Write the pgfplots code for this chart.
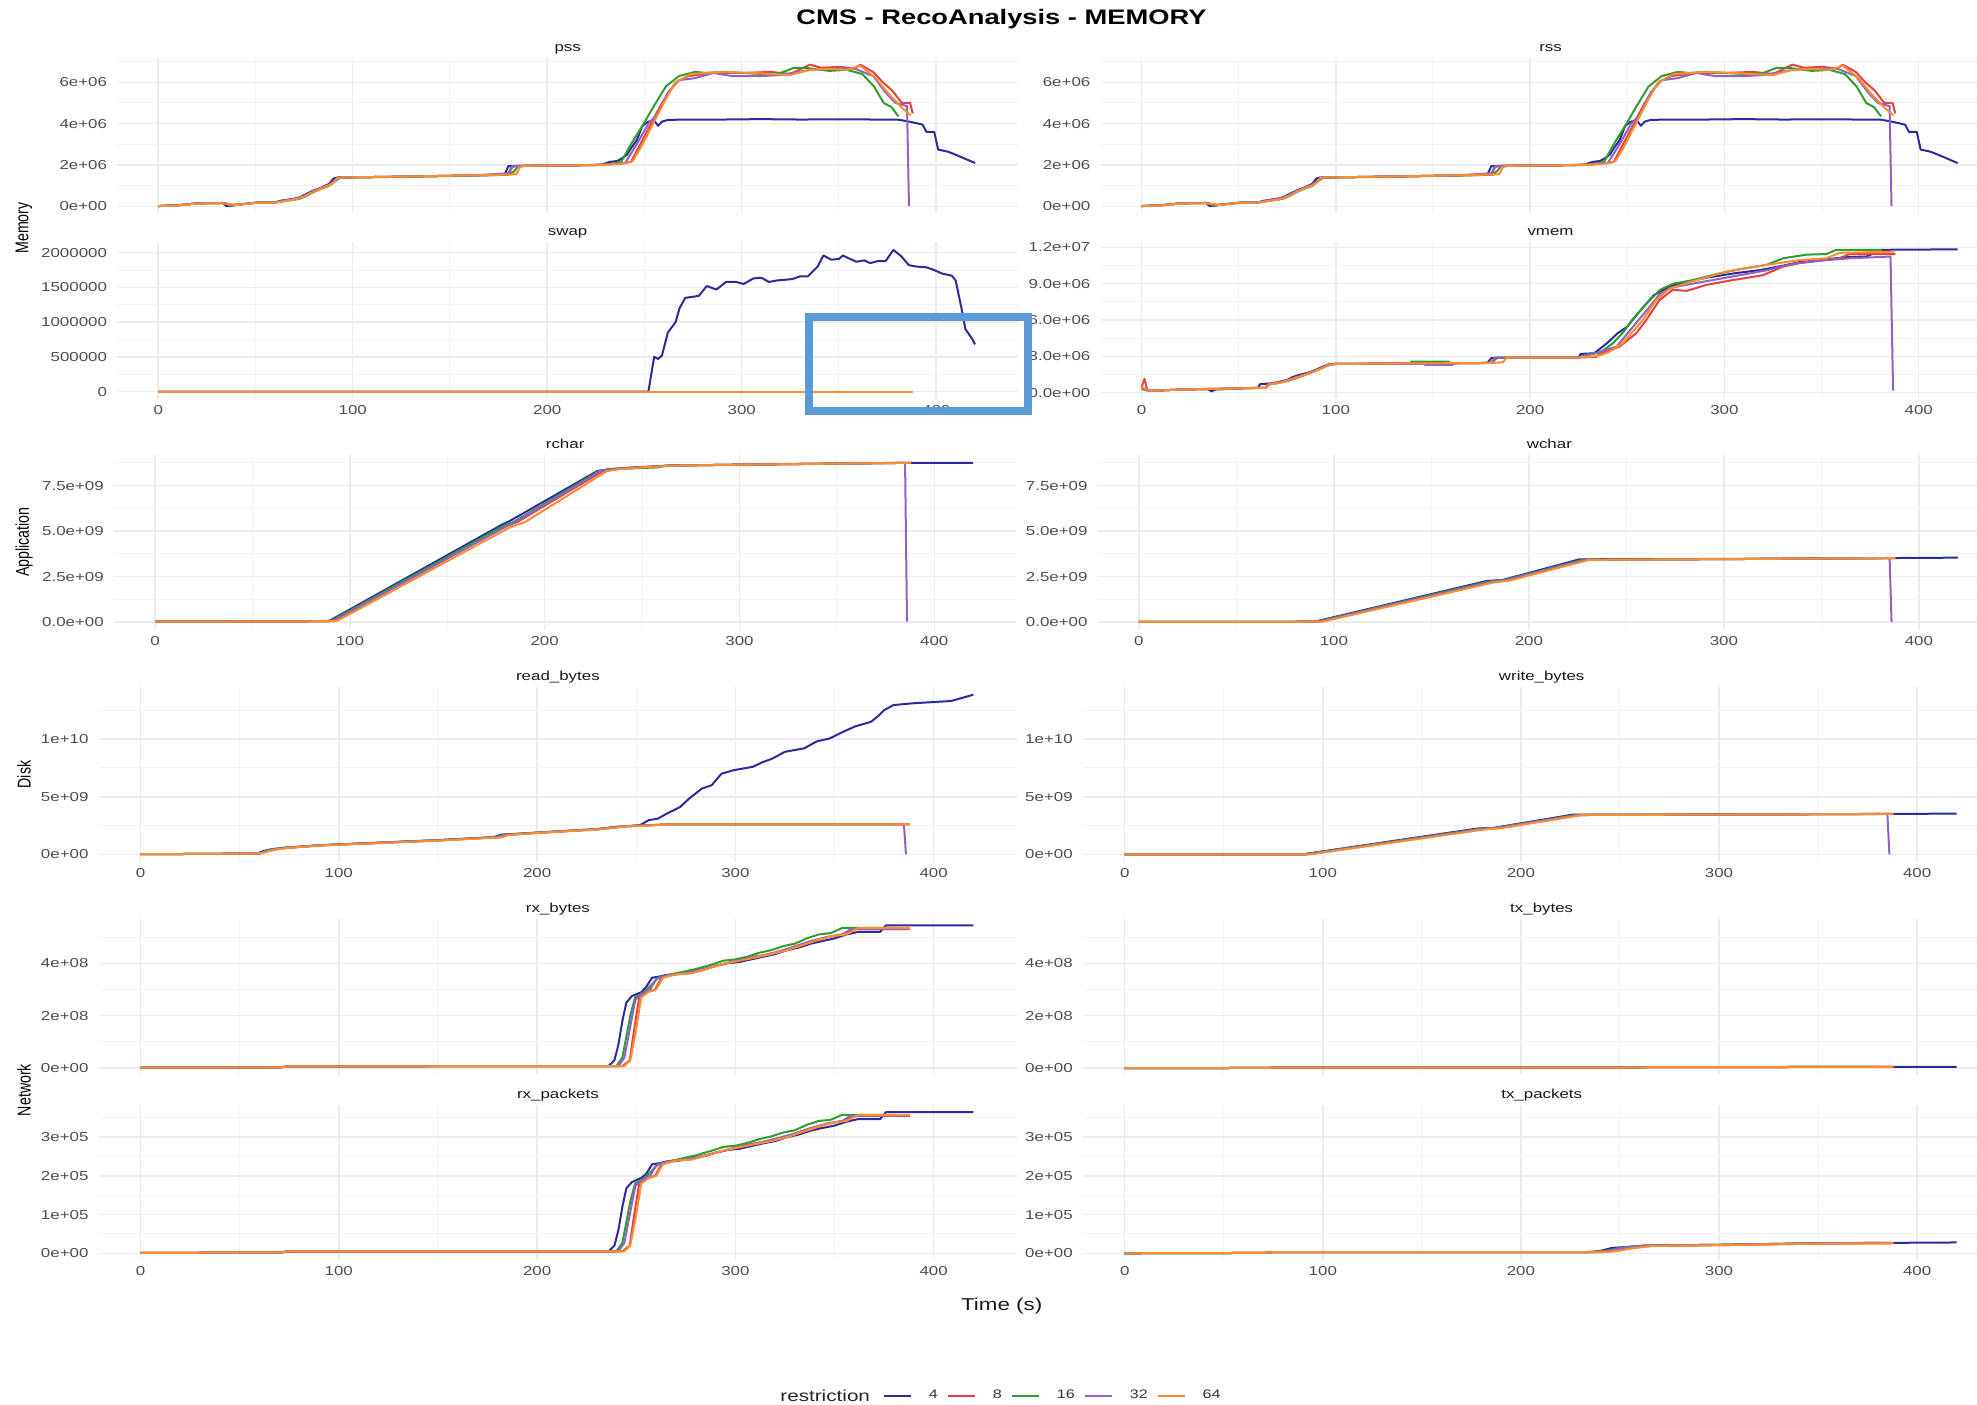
\documentclass[border=0pt]{standalone}
\usepackage{fontspec}
\setmainfont{Liberation Sans}[FakeStretch=1.3]
\newfontfamily\plainsans{Liberation Sans}
\usepackage{pgfplots}
\pgfplotsset{compat=1.18}
\usepackage{pgfplotstable}

\definecolor{cA}{HTML}{2B2B9E}
\definecolor{cB}{HTML}{E8423F}
\definecolor{cC}{HTML}{2E9E2E}
\definecolor{cD}{HTML}{8E63C4}
\definecolor{cE}{HTML}{FF8C2E}
\definecolor{gridc}{HTML}{EBEBEB}
\definecolor{gridm}{HTML}{F2F2F2}
\definecolor{tickc}{HTML}{4D4D4D}
\definecolor{stripc}{HTML}{1A1A1A}
\definecolor{boxc}{HTML}{5B9BD5}
\newcommand\tickfont{\fontsize{6.5}{7}\selectfont}

% ---------------- pss / rss (x 1e6) ----------------
\pgfplotstableread[row sep=\\]{x y\\ 0 0.02\\ 10 0.06\\ 20 0.15\\ 33 0.17\\ 35 0.03\\ 37 0.02\\ 40 0.08\\ 45 0.13\\ 50 0.18\\ 60 0.2\\ 63 0.28\\ 66 0.32\\ 70 0.38\\ 73 0.45\\ 76 0.6\\ 80 0.78\\ 84 0.92\\ 88 1.1\\ 90 1.35\\ 92 1.4\\ 100 1.41\\ 130 1.45\\ 160 1.5\\ 178 1.53\\ 180 1.95\\ 188 1.97\\ 200 1.98\\ 215 1.99\\ 228 2.02\\ 232 2.15\\ 236 2.2\\ 238 2.3\\ 241 2.5\\ 243 2.8\\ 246 3.2\\ 249 3.9\\ 252 4.1\\ 255 4.15\\ 257 3.9\\ 259 4.1\\ 262 4.18\\ 270 4.2\\ 290 4.2\\ 310 4.22\\ 330 4.2\\ 350 4.21\\ 370 4.2\\ 380 4.2\\ 385 4.12\\ 390 4.02\\ 393 3.95\\ 395 3.6\\ 399 3.6\\ 401 2.75\\ 406 2.65\\ 410 2.5\\ 415 2.3\\ 420 2.1\\}\pssA
\pgfplotstableread[row sep=\\]{x y\\ 0 0.02\\ 10 0.06\\ 20 0.15\\ 33 0.17\\ 37 0.1\\ 40 0.08\\ 45 0.13\\ 50 0.18\\ 60 0.2\\ 63 0.24\\ 66 0.3\\ 70 0.36\\ 73 0.42\\ 76 0.55\\ 80 0.74\\ 84 0.9\\ 88 1.05\\ 90 1.2\\ 92 1.38\\ 94 1.4\\ 100 1.41\\ 130 1.45\\ 160 1.5\\ 180 1.54\\ 182 1.9\\ 184 1.96\\ 200 1.98\\ 215 1.99\\ 228 2.01\\ 236 2.06\\ 243 2.15\\ 247.8 3.0\\ 254.5 4.2\\ 259 5.0\\ 266 6.0\\ 272.5 6.3\\ 285.5 6.45\\ 300 6.45\\ 315 6.5\\ 325 6.4\\ 335 6.85\\ 341 6.7\\ 351 6.75\\ 357.6 6.65\\ 361 6.85\\ 367.6 6.5\\ 372.5 6.0\\ 377.4 5.6\\ 382.3 5.0\\ 386.6 5.0\\ 387.9 4.5\\}\pssB
\pgfplotstableread[row sep=\\]{x y\\ 0 0.02\\ 10 0.06\\ 20 0.15\\ 33 0.17\\ 35 0.15\\ 37 0.03\\ 40 0.08\\ 45 0.13\\ 50 0.18\\ 60 0.2\\ 63 0.24\\ 66 0.28\\ 70 0.33\\ 73 0.38\\ 76 0.5\\ 80 0.7\\ 84 0.86\\ 88 1.0\\ 90 1.15\\ 92 1.3\\ 94 1.4\\ 100 1.4\\ 130 1.44\\ 160 1.49\\ 180 1.53\\ 183 1.7\\ 185 1.95\\ 200 1.98\\ 215 1.99\\ 228 2.01\\ 232 2.05\\ 238 2.15\\ 243 3.0\\ 249.6 4.0\\ 254.5 4.8\\ 261 5.8\\ 267.7 6.3\\ 276 6.5\\ 282 6.45\\ 290 6.5\\ 300 6.45\\ 310 6.4\\ 320 6.45\\ 327 6.7\\ 333 6.7\\ 345 6.55\\ 354 6.6\\ 362 6.4\\ 368 5.8\\ 373 5.0\\ 377 4.8\\ 380.6 4.35\\}\pssC
\pgfplotstableread[row sep=\\]{x y\\ 0 0.02\\ 10 0.06\\ 20 0.15\\ 33 0.17\\ 37 0.08\\ 40 0.08\\ 45 0.13\\ 50 0.18\\ 60 0.2\\ 63 0.25\\ 66 0.3\\ 70 0.36\\ 73 0.42\\ 76 0.55\\ 80 0.75\\ 84 0.9\\ 88 1.05\\ 90 1.2\\ 92 1.38\\ 94 1.4\\ 100 1.41\\ 130 1.45\\ 160 1.5\\ 180 1.6\\ 182 1.95\\ 200 1.98\\ 215 1.99\\ 228 2.01\\ 236 2.08\\ 240 2.1\\ 246 3.0\\ 252 4.0\\ 257 4.5\\ 262 5.5\\ 267.7 6.1\\ 276 6.2\\ 285.5 6.45\\ 295 6.3\\ 310 6.3\\ 320 6.35\\ 335 6.6\\ 357 6.7\\ 367.6 6.3\\ 374 5.5\\ 379 5.0\\ 385 4.85\\ 386 0.02\\}\pssD
\pgfplotstableread[row sep=\\]{x y\\ 0 0.02\\ 10 0.05\\ 20 0.14\\ 33 0.16\\ 37 0.1\\ 40 0.07\\ 45 0.12\\ 50 0.17\\ 60 0.19\\ 63 0.22\\ 66 0.28\\ 70 0.33\\ 73 0.4\\ 76 0.52\\ 80 0.72\\ 84 0.88\\ 88 1.02\\ 90 1.15\\ 92 1.35\\ 94 1.4\\ 100 1.41\\ 130 1.45\\ 160 1.5\\ 184 1.55\\ 186 1.9\\ 188 1.96\\ 200 1.98\\ 215 1.99\\ 228 2.0\\ 236 2.05\\ 241 2.1\\ 244 2.2\\ 249 3.0\\ 255.5 4.2\\ 261 5.2\\ 266 6.0\\ 274 6.4\\ 290 6.5\\ 305 6.45\\ 325 6.35\\ 335 6.6\\ 345 6.65\\ 354 6.6\\ 361 6.8\\ 369 6.2\\ 375 5.5\\ 382 4.8\\ 387 4.4\\}\pssE

% ---------------- swap (x 1e6) ----------------
\pgfplotstableread[row sep=\\]{x y\\ 0 0\\ 252 0\\ 255 0.5\\ 257 0.47\\ 259 0.52\\ 262 0.85\\ 266 1.0\\ 268 1.2\\ 271 1.35\\ 276 1.37\\ 278 1.38\\ 282 1.52\\ 287 1.47\\ 292 1.58\\ 297 1.58\\ 301 1.55\\ 306 1.63\\ 310 1.64\\ 314 1.58\\ 318 1.6\\ 322 1.61\\ 326 1.62\\ 330 1.66\\ 334 1.66\\ 339 1.8\\ 342 1.96\\ 346 1.9\\ 350 1.91\\ 352 1.96\\ 355 1.92\\ 359 1.87\\ 363 1.89\\ 366 1.85\\ 370 1.88\\ 374 1.88\\ 378 2.04\\ 382 1.95\\ 386 1.82\\ 390 1.8\\ 395 1.79\\ 399 1.75\\ 403 1.7\\ 408 1.67\\ 410 1.6\\ 413 1.2\\ 415 0.9\\ 418 0.78\\ 420 0.68\\}\swapA
\pgfplotstableread[row sep=\\]{x y\\ 0 0\\ 388 0\\}\swapB
\pgfplotstableread[row sep=\\]{x y\\ 0 0\\ 381 0\\}\swapC
\pgfplotstableread[row sep=\\]{x y\\ 0 0\\ 386 0\\}\swapD
\pgfplotstableread[row sep=\\]{x y\\ 0 0\\ 388 0\\}\swapE

% ---------------- vmem (x 1e6) ----------------
\pgfplotstableread[row sep=\\]{x y\\ 0 0.5\\ 2 0.2\\ 5 0.15\\ 20 0.25\\ 34 0.3\\ 36 0.1\\ 38 0.25\\ 50 0.35\\ 60 0.4\\ 61 0.7\\ 66 0.75\\ 70 0.85\\ 75 1.05\\ 78 1.3\\ 82 1.5\\ 86 1.65\\ 90 1.9\\ 94 2.2\\ 98 2.37\\ 140 2.4\\ 178 2.45\\ 180 2.85\\ 200 2.9\\ 225 2.9\\ 226 3.2\\ 233 3.25\\ 239.5 4.07\\ 245 4.9\\ 250 5.45\\ 256.8 6.8\\ 263.7 8.06\\ 272.3 8.8\\ 280.8 9.17\\ 291 9.5\\ 304.8 9.85\\ 318.5 10.13\\ 330.5 10.5\\ 339 10.8\\ 349.3 10.95\\ 363 11.2\\ 373.3 11.25\\ 378 11.6\\ 380.2 11.8\\ 420 11.84\\}\vmemA
\pgfplotstableread[row sep=\\]{x y\\ 0 0.4\\ 1.5 1.13\\ 3 0.2\\ 5 0.15\\ 20 0.25\\ 35 0.3\\ 50 0.35\\ 64 0.4\\ 65 0.7\\ 70 0.8\\ 75 1.0\\ 80 1.3\\ 84 1.5\\ 88 1.7\\ 92 2.0\\ 96 2.3\\ 100 2.37\\ 140 2.42\\ 180 2.45\\ 183 2.88\\ 225 2.9\\ 234 2.95\\ 236 3.2\\ 246 3.8\\ 254.6 4.9\\ 259.8 6.0\\ 266.6 7.65\\ 273.5 8.5\\ 280.4 8.4\\ 290.7 8.9\\ 304.4 9.3\\ 319.8 9.7\\ 330 10.4\\ 338.6 10.7\\ 348.9 10.9\\ 359.2 11.1\\ 364.3 11.45\\ 388 11.45\\}\vmemB
\pgfplotstableread[row sep=\\]{x y\\ 0 0.3\\ 3 0.2\\ 5 0.15\\ 20 0.25\\ 35 0.3\\ 50 0.35\\ 64 0.4\\ 66 0.7\\ 70 0.78\\ 75 0.95\\ 80 1.2\\ 84 1.45\\ 88 1.7\\ 92 1.95\\ 96 2.25\\ 100 2.37\\ 138 2.38\\ 139 2.56\\ 158 2.56\\ 159 2.42\\ 180 2.45\\ 182 2.9\\ 225 2.9\\ 230.8 3.2\\ 236 3.3\\ 242.8 4.1\\ 248 5.0\\ 253 6.1\\ 261.6 7.65\\ 267 8.5\\ 273.6 9.0\\ 283.9 9.3\\ 295.9 9.8\\ 307.9 10.2\\ 321.6 10.55\\ 330.2 11.1\\ 342.2 11.4\\ 352.5 11.45\\ 357.6 11.8\\ 381 11.8\\}\vmemC
\pgfplotstableread[row sep=\\]{x y\\ 0 0.3\\ 3 0.2\\ 5 0.15\\ 20 0.25\\ 35 0.3\\ 50 0.35\\ 64 0.4\\ 66 0.7\\ 70 0.8\\ 75 1.0\\ 80 1.25\\ 84 1.5\\ 88 1.7\\ 92 2.0\\ 96 2.3\\ 100 2.37\\ 145 2.38\\ 146 2.3\\ 160 2.3\\ 161 2.42\\ 180 2.45\\ 182 2.9\\ 225 2.9\\ 232.5 3.2\\ 244.5 3.8\\ 253 5.45\\ 260 6.8\\ 267 8.2\\ 273.6 8.7\\ 287 9.1\\ 304.4 9.6\\ 321.5 10.1\\ 335.3 10.65\\ 349 10.9\\ 364.5 11.1\\ 383.4 11.23\\ 385.5 11.23\\ 386.8 0.16\\}\vmemD
\pgfplotstableread[row sep=\\]{x y\\ 0 0.5\\ 3 0.2\\ 5 0.15\\ 20 0.25\\ 35 0.3\\ 50 0.35\\ 64 0.4\\ 66 0.7\\ 70 0.78\\ 75 0.98\\ 80 1.25\\ 84 1.45\\ 88 1.7\\ 92 1.95\\ 96 2.25\\ 100 2.37\\ 180 2.45\\ 186 2.5\\ 188 2.9\\ 225 2.9\\ 234 3.0\\ 240 3.3\\ 247.7 4.1\\ 258 6.0\\ 264.9 7.65\\ 271.8 8.6\\ 283.8 9.2\\ 301 10.0\\ 321.5 10.55\\ 338.7 10.95\\ 352.4 11.1\\ 359.2 11.55\\ 387.5 11.65\\}\vmemE

% ---------------- rchar (x 1e9) ----------------
\pgfplotstableread[row sep=\\]{x y\\ 0 0.02\\ 88 0.05\\ 90 0.1\\ 178 5.35\\ 182 5.55\\ 227 8.3\\ 233 8.4\\ 245 8.5\\ 265 8.6\\ 300 8.65\\ 388 8.75\\ 420 8.75\\}\rcA
\pgfplotstableread[row sep=\\]{x y\\ 0 0.02\\ 90 0.05\\ 92 0.1\\ 180 5.25\\ 186 5.5\\ 230 8.3\\ 236 8.4\\ 250 8.5\\ 265 8.6\\ 300 8.65\\ 388 8.75\\}\rcB
\pgfplotstableread[row sep=\\]{x y\\ 0 0.02\\ 89 0.05\\ 91 0.1\\ 179 5.3\\ 184 5.5\\ 228 8.3\\ 234 8.4\\ 258 8.5\\ 262 8.6\\ 300 8.65\\ 381 8.75\\}\rcC
\pgfplotstableread[row sep=\\]{x y\\ 0 0.02\\ 90 0.05\\ 92 0.1\\ 180 5.25\\ 185 5.5\\ 229 8.3\\ 235 8.4\\ 250 8.5\\ 265 8.6\\ 300 8.65\\ 385 8.75\\ 386 0.02\\}\rcD
\pgfplotstableread[row sep=\\]{x y\\ 0 0.02\\ 92 0.05\\ 94 0.1\\ 182 5.2\\ 190 5.5\\ 232 8.3\\ 238 8.4\\ 250 8.5\\ 268 8.6\\ 300 8.65\\ 388 8.75\\}\rcE

% ---------------- wchar / write_bytes (x 1e9) ----------------
\pgfplotstableread[row sep=\\]{x y\\ 0 0.01\\ 90 0.02\\ 178 2.25\\ 181 2.28\\ 186 2.3\\ 226 3.45\\ 300 3.47\\ 388 3.52\\ 420 3.54\\}\wcA
\pgfplotstableread[row sep=\\]{x y\\ 0 0.01\\ 92 0.02\\ 180 2.2\\ 188 2.3\\ 229 3.42\\ 300 3.46\\ 388 3.52\\}\wcB
\pgfplotstableread[row sep=\\]{x y\\ 0 0.01\\ 91 0.02\\ 179 2.22\\ 187 2.3\\ 228 3.43\\ 300 3.46\\ 381 3.51\\}\wcC
\pgfplotstableread[row sep=\\]{x y\\ 0 0.01\\ 92 0.02\\ 180 2.2\\ 188 2.3\\ 229 3.42\\ 300 3.46\\ 385 3.51\\ 386 0.01\\}\wcD
\pgfplotstableread[row sep=\\]{x y\\ 0 0.01\\ 94 0.02\\ 182 2.18\\ 190 2.28\\ 231 3.42\\ 300 3.46\\ 388 3.52\\}\wcE

% ---------------- read_bytes (x 1e9) ----------------
\pgfplotstableread[row sep=\\]{x y\\ 0 0.03\\ 33 0.05\\ 59 0.1\\ 62 0.3\\ 66 0.45\\ 72 0.58\\ 90 0.8\\ 100 0.88\\ 150 1.25\\ 178 1.5\\ 182 1.72\\ 200 1.9\\ 230 2.2\\ 240 2.4\\ 251.9 2.54\\ 256.3 2.98\\ 260.8 3.1\\ 265.5 3.55\\ 272 4.1\\ 276.7 4.85\\ 283 5.7\\ 288 6.0\\ 293 7.0\\ 299 7.3\\ 308.8 7.6\\ 313.7 8.0\\ 318.5 8.3\\ 325 8.9\\ 334.7 9.2\\ 341 9.8\\ 347.5 10.05\\ 353.9 10.6\\ 360.4 11.1\\ 368.4 11.5\\ 372 12.0\\ 374.9 12.5\\ 379.7 12.95\\ 389.3 13.1\\ 399 13.2\\ 408.6 13.3\\ 415 13.6\\ 420 13.85\\}\rbA
\pgfplotstableread[row sep=\\]{x y\\ 0 0.03\\ 33 0.05\\ 60 0.1\\ 64 0.3\\ 68 0.45\\ 74 0.58\\ 90 0.78\\ 100 0.86\\ 150 1.22\\ 180 1.5\\ 184 1.7\\ 200 1.88\\ 230 2.18\\ 245 2.45\\ 255 2.52\\ 265 2.6\\ 388 2.6\\}\rbB
\pgfplotstableread[row sep=\\]{x y\\ 0 0.03\\ 33 0.05\\ 60 0.1\\ 63 0.3\\ 67 0.45\\ 73 0.58\\ 90 0.79\\ 100 0.87\\ 150 1.23\\ 179 1.5\\ 183 1.7\\ 200 1.89\\ 230 2.19\\ 245 2.45\\ 255 2.52\\ 265 2.6\\ 381 2.6\\}\rbC
\pgfplotstableread[row sep=\\]{x y\\ 0 0.03\\ 33 0.05\\ 60 0.1\\ 64 0.3\\ 68 0.45\\ 74 0.58\\ 90 0.78\\ 100 0.86\\ 150 1.22\\ 180 1.5\\ 184 1.7\\ 200 1.88\\ 230 2.18\\ 245 2.45\\ 255 2.52\\ 265 2.6\\ 385 2.6\\ 386 0.02\\}\rbD
\pgfplotstableread[row sep=\\]{x y\\ 0 0.03\\ 33 0.05\\ 61 0.1\\ 65 0.3\\ 69 0.45\\ 75 0.58\\ 90 0.77\\ 100 0.85\\ 150 1.2\\ 182 1.48\\ 186 1.7\\ 200 1.86\\ 230 2.16\\ 245 2.43\\ 255 2.5\\ 266 2.6\\ 388 2.6\\}\rbE

% ---------------- rx_bytes (x 1e8) ----------------
\pgfplotstableread[row sep=\\]{x y\\ 0 0.02\\ 70 0.03\\ 75 0.07\\ 236 0.08\\ 239 0.3\\ 241 0.9\\ 243 1.8\\ 245 2.5\\ 247.8 2.75\\ 252.6 2.9\\ 255 3.1\\ 258 3.45\\ 262 3.5\\ 265 3.55\\ 270 3.6\\ 276 3.62\\ 280 3.72\\ 286 3.8\\ 290 3.9\\ 296 4.0\\ 302 4.05\\ 308 4.15\\ 314 4.25\\ 320 4.35\\ 326 4.5\\ 332 4.6\\ 338 4.75\\ 344 4.85\\ 350 4.95\\ 356 5.1\\ 362 5.2\\ 373 5.2\\ 376 5.45\\ 420 5.45\\}\rxA
\pgfplotstableread[row sep=\\]{x y\\ 0 0.02\\ 70 0.03\\ 75 0.07\\ 243 0.08\\ 246.7 0.3\\ 249 1.5\\ 251.5 2.7\\ 254.7 2.9\\ 259.5 3.0\\ 262.7 3.45\\ 268 3.55\\ 275 3.62\\ 282 3.7\\ 290 3.9\\ 298 4.05\\ 306 4.2\\ 314 4.3\\ 322 4.45\\ 330 4.6\\ 338 4.8\\ 346 5.0\\ 354 5.1\\ 360 5.3\\ 388 5.3\\}\rxB
\pgfplotstableread[row sep=\\]{x y\\ 0 0.02\\ 70 0.03\\ 75 0.07\\ 240 0.08\\ 243 0.4\\ 245 1.2\\ 247 2.0\\ 249.4 2.7\\ 254 2.9\\ 258 3.2\\ 261 3.45\\ 266 3.55\\ 272 3.65\\ 280 3.78\\ 288 3.95\\ 294 4.1\\ 300 4.15\\ 306 4.25\\ 312 4.4\\ 318 4.5\\ 324 4.65\\ 330 4.75\\ 336 4.95\\ 342 5.1\\ 348 5.15\\ 354 5.35\\ 381 5.35\\}\rxC
\pgfplotstableread[row sep=\\]{x y\\ 0 0.02\\ 70 0.03\\ 75 0.07\\ 241 0.08\\ 244 0.4\\ 247 1.6\\ 249.5 2.6\\ 253 2.85\\ 257 3.0\\ 260 3.4\\ 266 3.55\\ 274 3.62\\ 282 3.75\\ 290 3.9\\ 298 4.05\\ 306 4.2\\ 314 4.3\\ 322 4.45\\ 330 4.65\\ 338 4.85\\ 346 5.0\\ 354 5.1\\ 358 5.3\\ 386 5.3\\}\rxD
\pgfplotstableread[row sep=\\]{x y\\ 0 0.02\\ 70 0.03\\ 75 0.07\\ 244 0.08\\ 247 0.3\\ 250 1.5\\ 252.5 2.7\\ 256 2.9\\ 260 3.0\\ 263.5 3.45\\ 270 3.58\\ 278 3.62\\ 286 3.8\\ 294 3.98\\ 302 4.1\\ 310 4.22\\ 318 4.35\\ 326 4.5\\ 334 4.7\\ 342 4.9\\ 350 5.05\\ 356 5.1\\ 362 5.35\\ 388 5.35\\}\rxE

% ---------------- rx_packets (x 1e5) ----------------
\pgfplotstableread[row sep=\\]{x y\\ 0 0.01\\ 70 0.02\\ 75 0.05\\ 236 0.05\\ 239 0.2\\ 241 0.6\\ 243 1.2\\ 245 1.68\\ 247.8 1.84\\ 252.6 1.95\\ 255 2.05\\ 258 2.3\\ 262 2.33\\ 265 2.37\\ 270 2.4\\ 276 2.42\\ 280 2.48\\ 286 2.53\\ 290 2.6\\ 296 2.67\\ 302 2.7\\ 308 2.77\\ 314 2.84\\ 320 2.9\\ 326 3.0\\ 332 3.07\\ 338 3.17\\ 344 3.24\\ 350 3.3\\ 356 3.4\\ 362 3.47\\ 373 3.47\\ 376 3.65\\ 420 3.65\\}\rpA
\pgfplotstableread[row sep=\\]{x y\\ 0 0.01\\ 70 0.02\\ 75 0.05\\ 243 0.05\\ 246.7 0.2\\ 249 1.0\\ 251.5 1.8\\ 254.7 1.94\\ 259.5 2.0\\ 262.7 2.3\\ 268 2.37\\ 275 2.42\\ 282 2.48\\ 290 2.6\\ 298 2.7\\ 306 2.8\\ 314 2.88\\ 322 2.98\\ 330 3.08\\ 338 3.2\\ 346 3.35\\ 354 3.42\\ 360 3.55\\ 388 3.55\\}\rpB
\pgfplotstableread[row sep=\\]{x y\\ 0 0.01\\ 70 0.02\\ 75 0.05\\ 240 0.05\\ 243 0.27\\ 245 0.8\\ 247 1.34\\ 249.4 1.8\\ 254 1.94\\ 258 2.14\\ 261 2.3\\ 266 2.37\\ 272 2.44\\ 280 2.53\\ 288 2.65\\ 294 2.75\\ 300 2.78\\ 306 2.85\\ 312 2.95\\ 318 3.02\\ 324 3.12\\ 330 3.18\\ 336 3.32\\ 342 3.42\\ 348 3.45\\ 354 3.58\\ 381 3.58\\}\rpC
\pgfplotstableread[row sep=\\]{x y\\ 0 0.01\\ 70 0.02\\ 75 0.05\\ 241 0.05\\ 244 0.27\\ 247 1.07\\ 249.5 1.74\\ 253 1.9\\ 257 2.0\\ 260 2.27\\ 266 2.37\\ 274 2.42\\ 282 2.5\\ 290 2.6\\ 298 2.7\\ 306 2.8\\ 314 2.88\\ 322 2.98\\ 330 3.1\\ 338 3.24\\ 346 3.35\\ 354 3.42\\ 358 3.55\\ 386 3.55\\}\rpD
\pgfplotstableread[row sep=\\]{x y\\ 0 0.01\\ 70 0.02\\ 75 0.05\\ 244 0.05\\ 247 0.2\\ 250 1.0\\ 252.5 1.8\\ 256 1.94\\ 260 2.0\\ 263.5 2.3\\ 270 2.4\\ 278 2.42\\ 286 2.54\\ 294 2.66\\ 302 2.74\\ 310 2.82\\ 318 2.9\\ 326 3.0\\ 334 3.14\\ 342 3.28\\ 350 3.38\\ 356 3.42\\ 362 3.58\\ 388 3.58\\}\rpE

% ---------------- tx_bytes (x 1e8) ----------------
\pgfplotstableread[row sep=\\]{x y\\ 0 0.0\\ 70 0.01\\ 75 0.02\\ 240 0.02\\ 265 0.04\\ 388 0.05\\ 420 0.05\\}\txA
\pgfplotstableread[row sep=\\]{x y\\ 0 0.0\\ 70 0.01\\ 75 0.02\\ 243 0.02\\ 268 0.04\\ 388 0.05\\}\txB
\pgfplotstableread[row sep=\\]{x y\\ 0 0.0\\ 70 0.01\\ 75 0.02\\ 241 0.02\\ 266 0.04\\ 381 0.05\\}\txC
\pgfplotstableread[row sep=\\]{x y\\ 0 0.0\\ 70 0.01\\ 75 0.02\\ 242 0.02\\ 267 0.04\\ 386 0.05\\}\txD
\pgfplotstableread[row sep=\\]{x y\\ 0 0.0\\ 70 0.01\\ 75 0.02\\ 244 0.02\\ 269 0.04\\ 388 0.05\\}\txE

% ---------------- tx_packets (x 1e5) ----------------
\pgfplotstableread[row sep=\\]{x y\\ 0 0.0\\ 70 0.01\\ 75 0.03\\ 233 0.03\\ 240 0.06\\ 246 0.14\\ 252 0.16\\ 258 0.18\\ 264 0.2\\ 300 0.22\\ 350 0.26\\ 388 0.27\\ 420 0.28\\}\tpA
\pgfplotstableread[row sep=\\]{x y\\ 0 0.0\\ 70 0.01\\ 75 0.03\\ 240 0.03\\ 248 0.06\\ 254 0.12\\ 260 0.16\\ 266 0.19\\ 300 0.21\\ 350 0.25\\ 388 0.26\\}\tpB
\pgfplotstableread[row sep=\\]{x y\\ 0 0.0\\ 70 0.01\\ 75 0.03\\ 236 0.03\\ 244 0.07\\ 250 0.14\\ 256 0.17\\ 262 0.2\\ 300 0.22\\ 350 0.26\\ 381 0.27\\}\tpC
\pgfplotstableread[row sep=\\]{x y\\ 0 0.0\\ 70 0.01\\ 75 0.03\\ 237 0.03\\ 245 0.07\\ 251 0.14\\ 257 0.17\\ 263 0.2\\ 300 0.22\\ 350 0.26\\ 386 0.27\\}\tpD
\pgfplotstableread[row sep=\\]{x y\\ 0 0.0\\ 70 0.01\\ 75 0.03\\ 240 0.03\\ 249 0.06\\ 255 0.12\\ 261 0.16\\ 266 0.19\\ 300 0.21\\ 350 0.25\\ 388 0.26\\}\tpE

\newcommand\plotA[1]{\addplot[cA] table[x=x,y=y] {#1};}
\newcommand\plotB[1]{\addplot[cB] table[x=x,y=y] {#1};}
\newcommand\plotC[1]{\addplot[cC] table[x=x,y=y] {#1};}
\newcommand\plotD[1]{\addplot[cD] table[x=x,y=y] {#1};}
\newcommand\plotE[1]{\addplot[cE] table[x=x,y=y] {#1};}
\newcommand\five[1]{%
  \expandafter\plotA\csname #1A\endcsname
  \expandafter\plotB\csname #1B\endcsname
  \expandafter\plotC\csname #1C\endcsname
  \expandafter\plotD\csname #1D\endcsname
  \expandafter\plotE\csname #1E\endcsname}

\pgfplotsset{
  panel/.style={
    scale only axis, xmin=-21, xmax=442, anchor=south west,
    axis line style={draw=none},
    major tick length=0pt, minor tick length=0pt,
    grid=both,
    major grid style={line width=0.75pt, draw=gridc},
    minor grid style={line width=0.5pt, draw=gridm},
    xtick={0,100,200,300,400}, minor xtick={50,150,250,350},
    xticklabels={0,100,200,300,400},
    tick label style={font=\tickfont, text=tickc},
    yticklabel style={anchor=east, inner sep=0pt, xshift=-5pt},
    xticklabel style={anchor=north, inner sep=0pt, yshift=-3pt},
    every axis title/.style={at={(0.5,1)}, anchor=base, yshift=3.25pt, inner sep=0pt, font=\tickfont, text=stripc},
    every axis plot/.append style={line width=1pt, line join=round, no markers},
  },
  nox/.style={xticklabels={}},
  memL/.style={panel, width=450.25pt, at={(58.7pt,#1)}},
  memR/.style={panel, width=449.8pt, at={(550.35pt,#1)}},
  appL/.style={panel, width=450.95pt, at={(57.1pt,#1)}},
  appR/.style={panel, width=451.4pt, at={(548.97pt,#1)}},
  dnL/.style={panel, width=459.06pt, at={(49.43pt,#1)}},
  dnR/.style={panel, width=458.6pt, at={(541.55pt,#1)}},
  rowA/.style={height=77.9pt, ymin=-0.333, ymax=7.193, ytick={0,2,4,6}, minor ytick={1,3,5,7}, yticklabels={0e+00,2e+06,4e+06,6e+06}},
  rowApp/.style={height=87.55pt, ymin=-0.434, ymax=9.187, ytick={0,2.5,5,7.5}, minor ytick={1.25,3.75,6.25,8.75}, yticklabels={0.0e+00,2.5e+09,5.0e+09,7.5e+09}},
  rowDisk/.style={height=87.75pt, ymin=-0.693, ymax=14.515, ytick={0,5,10}, minor ytick={2.5,7.5,12.5}, yticklabels={0e+00,5e+09,1e+10}},
  rowNa/.style={height=78.25pt, ymin=-0.2746, ymax=5.693, ytick={0,2,4}, minor ytick={1,3,5}, yticklabels={0e+00,2e+08,4e+08}},
  rowNb/.style={height=77.85pt, ymin=-0.1835, ymax=3.84, ytick={0,1,2,3}, minor ytick={0.5,1.5,2.5,3.5}, yticklabels={0e+00,1e+05,2e+05,3e+05}},
}

\newcommand\grouplabel[2]{%
  \begin{scope}[shift={(12pt,#1)}, xscale=1.3]
    \node[font=\plainsans\fontsize{7.1}{8}\selectfont, rotate=90, transform shape, anchor=center] at (0,0) {#2};
  \end{scope}}

\begin{document}
\begin{tikzpicture}
\useasboundingbox (0,0) rectangle (988.5pt,702pt);

% ===== Memory =====
\begin{axis}[memL=595.3pt, rowA, nox, title={pss}]
\five{pss}
\end{axis}
\begin{axis}[memR=595.3pt, rowA, nox, title={rss}]
\five{pss}
\end{axis}
\begin{axis}[memL=502.7pt, height=78.35pt, ymin=-0.1008, ymax=2.156, ytick={0,0.5,1,1.5,2}, minor ytick={0.25,0.75,1.25,1.75}, yticklabels={0,500000,1000000,1500000,2000000}, title={swap}]
\five{swap}
\end{axis}
\begin{axis}[memR=502.7pt, height=78.35pt, ymin=-0.496, ymax=12.455, ytick={0,3,6,9,12}, minor ytick={1.5,4.5,7.5,10.5}, yticklabels={0.0e+00,3.0e+06,6.0e+06,9.0e+06,1.2e+07}, title={vmem}]
\five{vmem}
\end{axis}

% ===== Application =====
\begin{axis}[appL=387pt, rowApp, title={rchar}]
\five{rc}
\end{axis}
\begin{axis}[appR=387pt, rowApp, title={wchar}]
\five{wc}
\end{axis}

% ===== Disk =====
\begin{axis}[dnL=270.75pt, rowDisk, title={read\_bytes}]
\five{rb}
\end{axis}
\begin{axis}[dnR=270.75pt, rowDisk, title={write\_bytes}]
\five{wc}
\end{axis}

% ===== Network =====
\begin{axis}[dnL=164.3pt, rowNa, nox, title={rx\_bytes}]
\five{rx}
\end{axis}
\begin{axis}[dnR=164.3pt, rowNa, nox, title={tx\_bytes}]
\five{tx}
\end{axis}
\begin{axis}[dnL=71.8pt, rowNb, title={rx\_packets},
  legend entries={4,8,16,32,64},
  legend columns=-1,
  legend image code/.code={\draw[#1, line width=1pt] (0pt,0pt) -- (13.5pt,0pt);},
  legend style={at={(0.854,-0.8709)}, anchor=west, draw=none, fill=none, inner sep=0pt, outer sep=0pt,
    font=\fontsize{6.2}{7}\selectfont, text=black!80, nodes={inner sep=0pt},
    /tikz/every odd column/.append style={column sep=8.5pt},
    /tikz/every even column/.append style={column sep=4.5pt}}]
\five{rp}
\end{axis}
\begin{axis}[dnR=71.8pt, rowNb, title={tx\_packets}]
\five{tp}
\end{axis}

% ===== texts =====
\node[font=\bfseries\fontsize{10.5}{12}\selectfont, anchor=base] at (500.75pt,689.5pt) {CMS - RecoAnalysis - MEMORY};
\grouplabel{588pt}{Memory}
\grouplabel{431pt}{Application}
\grouplabel{314.75pt}{Disk}
\grouplabel{157pt}{Network}
\node[font=\fontsize{8.6}{10}\selectfont, anchor=base, text=black!90] at (500.85pt,46.65pt) {Time (s)};
\node[font=\fontsize{7.95}{9}\selectfont, anchor=base west, inner sep=0pt, text=black!85] at (390pt,1.15pt) {restriction};

% annotation box
\draw[line width=4pt, draw=boxc] (404.4pt,496.6pt) rectangle (513.75pt,543.65pt);
\end{tikzpicture}
\end{document}
